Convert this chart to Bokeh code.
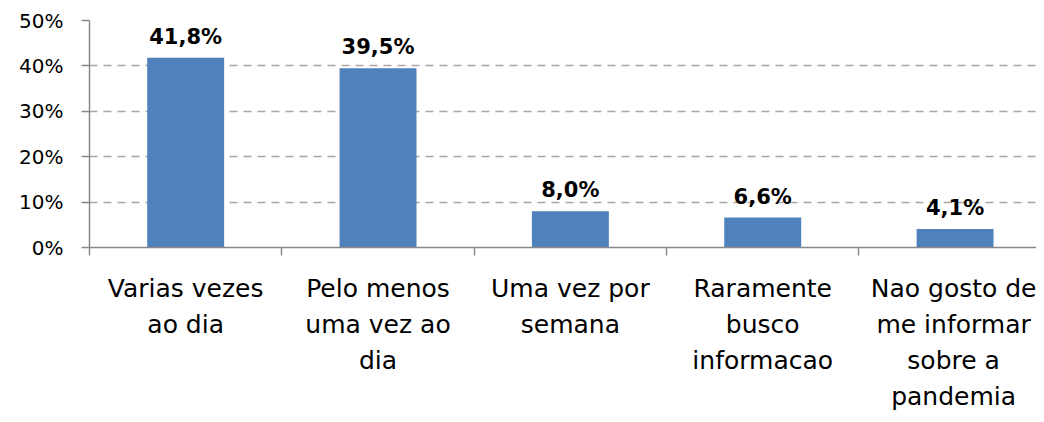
from bokeh.plotting import figure
from bokeh.models import ColumnDataSource, Range1d, FixedTicker, NumeralTickFormatter
from bokeh.core.properties import value
from bokeh.embed import file_html
from bokeh.resources import INLINE

# ---- data ----
categories = [
    "Varias vezes\nao dia",
    "Pelo menos\numa vez ao\ndia",
    "Uma vez por\nsemana",
    "Raramente\nbusco\ninformacao",
    "Nao gosto de\nme informar\nsobre a\npandemia",
]
shares = [41.8, 39.5, 8.0, 6.6, 4.1]
y_ticks = [0, 10, 20, 30, 40, 50]

FONT = "DejaVu Sans"
BLUE = "#4F81BD"
AXIS_GRAY = "#898989"
GRID_GRAY = "#A6A6A6"
CAT_W = 192.35          # px per category

xs = [i + 0.5 for i in range(len(categories))]
src = ColumnDataSource(dict(
    x=xs,
    top=[v / 100 for v in shares],
    lbl=[f"{v:.1f}".replace(".", ",") + "%" for v in shares],
))

W, H = 1036, 414
LEFT, TOP, BOTTOM = 89, 20, 166
frame_w = W - LEFT
p = figure(width=W, height=H, output_backend="svg", toolbar_location=None,
           x_range=Range1d(0, frame_w / CAT_W), y_range=Range1d(0, 0.5),
           min_border_left=LEFT, min_border_right=0, min_border_top=TOP,
           min_border_bottom=BOTTOM)
p.outline_line_color = None
p.background_fill_color = "white"
p.border_fill_color = "white"

p.vbar(x="x", top="top", width=0.4, bottom=0, source=src,
       fill_color=BLUE, line_color=None)

p.text(x="x", y="top", text="lbl", source=src,
       text_font=value(FONT), text_font_style="bold", text_font_size="21px",
       text_align="center", text_baseline="alphabetic", y_offset=-21,
       text_color="#000000")

# y axis
p.yaxis.ticker = FixedTicker(ticks=[t / 100 for t in y_ticks])
p.yaxis.formatter = NumeralTickFormatter(format="0%")
p.yaxis.axis_line_color = AXIS_GRAY
p.yaxis.axis_line_width = 1.5
p.yaxis.major_tick_line_color = AXIS_GRAY
p.yaxis.major_tick_line_width = 1.5
p.yaxis.major_tick_in = 0
p.yaxis.major_tick_out = 8
p.yaxis.minor_tick_line_color = None
p.yaxis.major_label_standoff = 18
p.yaxis.major_label_text_font = FONT
p.yaxis.major_label_text_font_size = "20px"
p.yaxis.major_label_text_color = "#000000"

# x axis: labels at category centres, tick marks between categories
p.xaxis.ticker = FixedTicker(ticks=xs, minor_ticks=[0, 1, 2, 3, 4])
p.xaxis.major_label_overrides = {x: c for x, c in zip(xs, categories)}
p.xaxis.axis_line_color = AXIS_GRAY
p.xaxis.axis_line_width = 1.5
p.xaxis.major_tick_line_color = None
p.xaxis.major_tick_in = 0
p.xaxis.major_tick_out = 0
p.xaxis.minor_tick_line_color = AXIS_GRAY
p.xaxis.minor_tick_line_width = 1.5
p.xaxis.minor_tick_in = 0
p.xaxis.minor_tick_out = 8
p.xaxis.major_label_standoff = 18
p.xaxis.major_label_text_font = FONT
p.xaxis.major_label_text_font_size = "25px"
p.xaxis.major_label_text_color = "#000000"
p.xaxis.major_label_text_line_height = 1.25

# grid
p.xgrid.grid_line_color = None
p.ygrid.ticker = FixedTicker(ticks=[t / 100 for t in y_ticks if t > 0])
p.ygrid.grid_line_color = GRID_GRAY
p.ygrid.grid_line_width = 1.5
p.ygrid.grid_line_dash = "8 6"

open("out.html", "w").write(file_html(p, INLINE))
